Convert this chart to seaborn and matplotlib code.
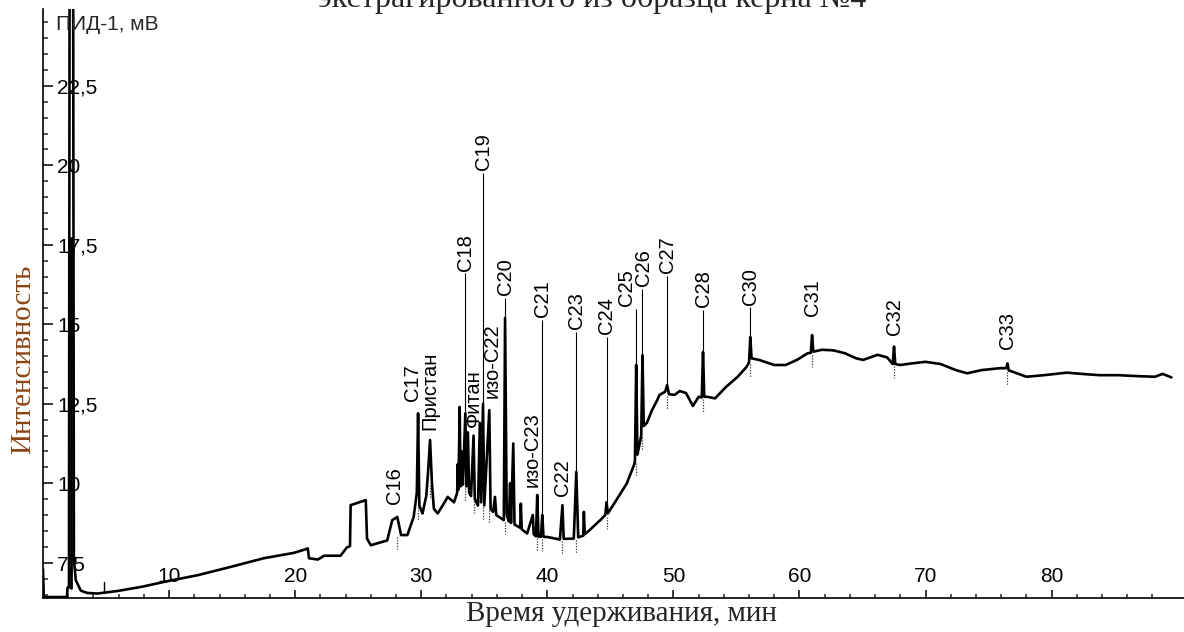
import matplotlib
matplotlib.use("Agg")
import matplotlib.pyplot as plt
from matplotlib.ticker import FixedLocator, MultipleLocator, FuncFormatter
import numpy as np
import pandas as pd
import seaborn as sns

# Detector trace: retention time (min) and FID signal (mV)
time_min = [
    0.00, 0.06, 1.90, 1.95, 2.06, 2.11, 2.39, 2.45, 2.60, 3.00, 3.50, 4.30, 5.90, 7.80,
    10.0, 12.3, 14.9, 17.5, 19.9, 20.8, 21.0, 21.1, 21.8, 22.3, 23.6, 24.1, 24.35, 24.40,
    25.60, 25.70, 26.00, 27.30, 27.70, 28.10, 28.40, 28.90, 29.40, 29.65, 29.75, 29.85,
    30.10, 30.40, 30.55, 30.70, 30.85, 31.00, 31.30, 31.70, 32.10, 32.60, 32.85, 32.90,
    32.95, 33.05, 33.12, 33.22, 33.30, 33.50, 33.58, 33.70, 33.80, 33.95, 34.15, 34.25,
    34.50, 34.65, 34.75, 34.90, 35.00, 35.40, 35.50, 35.70, 35.85, 35.95, 36.55, 36.65,
    36.78, 36.95, 37.05, 37.12, 37.30, 37.40, 37.85, 37.90, 37.97, 38.40, 38.85, 38.92,
    39.10, 39.20, 39.30, 39.50, 39.60, 39.70, 40.00, 41.00, 41.20, 41.30, 42.10, 42.30,
    42.45, 42.85, 42.90, 42.97, 43.20, 44.20, 44.60, 44.70, 44.80, 45.30, 46.30, 46.90,
    46.95, 47.05, 47.15, 47.45, 47.55, 47.65, 47.90, 48.30, 48.70, 48.90, 49.35, 49.50,
    49.65, 50.10, 50.50, 51.00, 51.55, 52.00, 52.25, 52.35, 52.45, 52.70, 53.30, 54.20,
    55.10, 55.80, 56.00, 56.10, 56.20, 56.80, 58.00, 58.90, 59.80, 60.65, 60.90, 61.00,
    61.10, 61.80, 62.70, 63.60, 64.50, 65.05, 66.20, 66.95, 67.40, 67.50, 67.60, 68.00,
    68.90, 70.00, 71.20, 72.40, 73.30, 74.45, 75.90, 76.40, 76.50, 76.60, 76.90, 78.00,
    79.40, 81.20, 82.40, 83.80, 85.30, 86.80, 88.20, 88.80, 89.50,
]
signal_mv = [
    7.30, 6.42, 6.42, 6.72, 6.72, 26.5, 26.5, 7.60, 6.95, 6.62, 6.55, 6.53, 6.61, 6.74,
    6.93, 7.11, 7.37, 7.64, 7.81, 7.92, 7.95, 7.64, 7.60, 7.72, 7.72, 7.98, 8.02, 9.31,
    9.47, 8.26, 8.05, 8.20, 8.84, 8.94, 8.37, 8.37, 8.94, 9.70, 12.20, 9.30,
    9.05, 9.60, 10.40, 11.36, 10.00, 9.20, 9.05, 9.30, 9.57, 9.40, 9.70, 10.60,
    9.80, 12.40, 9.90, 11.00, 9.95, 12.20, 9.90, 11.60, 9.70, 9.60, 11.50, 9.50,
    9.30, 11.90, 9.40, 12.50, 9.30, 12.30, 9.20, 9.10, 9.57, 9.00, 8.84, 15.20,
    9.00, 8.80, 10.00, 8.75, 11.25, 8.70, 8.60, 9.36, 8.55, 8.42, 9.00, 8.40,
    8.33, 9.63, 8.32, 8.32, 9.00, 8.31, 8.31, 8.23, 9.31, 8.25, 8.26, 10.36,
    8.30, 8.35, 9.10, 8.40, 8.47, 8.84, 9.00, 9.40, 9.05, 9.36, 9.99, 10.60,
    10.70, 13.72, 10.90, 11.50, 14.03, 11.80, 11.90, 12.30, 12.60, 12.78, 12.88, 13.09,
    12.80, 12.78, 12.90, 12.84, 12.43, 12.72, 12.70, 14.13, 12.72, 12.72, 12.67, 13.04,
    13.35, 13.66, 13.80, 14.60, 13.93, 13.88, 13.72, 13.72, 13.88, 14.09, 14.10, 14.66,
    14.14, 14.20, 14.18, 14.09, 13.93, 13.88, 14.04, 13.96, 13.75, 14.30, 13.75, 13.72,
    13.77, 13.82, 13.75, 13.56, 13.46, 13.56, 13.62, 13.62, 13.77, 13.55, 13.51, 13.35,
    13.40, 13.48, 13.44, 13.40, 13.40, 13.37, 13.35, 13.44, 13.33,
]

# Overlapping core of the solvent peak
solvent_core_time = [2.25, 2.25]
solvent_core_mv = [6.72, 17.7]

# Identified components: apex time, apex signal, bottom of the label
peak_names = ["C16", "C17", "Пристан", "C18", "Фитан", "C19", "изо-C22", "C20",
              "изо-C23", "C21", "C22", "C23", "C24", "C25", "C26", "C27", "C28",
              "C30", "C31", "C32", "C33"]
peak_times = [28.10, 29.75, 30.70, 33.50, 34.15, 34.90, 35.40, 36.65,
              39.20, 39.60, 41.20, 42.30, 44.70, 47.05, 47.55, 49.50, 52.35,
              56.10, 61.00, 67.50, 76.50]
peak_apex = [8.94, 12.20, 11.36, 12.20, 11.50, 12.50, 12.30, 15.20,
             9.63, 9.00, 9.31, 10.36, 9.40, 13.72, 14.03, 13.09, 14.13,
             14.60, 14.66, 14.30, 13.77]
label_base = [9.25, 12.50, 11.58, 16.60, 11.67, 19.76, 12.60, 15.83,
              9.79, 15.13, 9.52, 14.77, 14.61, 15.48, 16.11, 16.52, 15.45,
              15.53, 15.16, 14.57, 14.14]

x_major = [10, 20, 30, 40, 50, 60, 70, 80]

trace = pd.DataFrame({"t": time_min, "mv": signal_mv})
core = pd.DataFrame({"t": solvent_core_time, "mv": solvent_core_mv})

sns.set_style("ticks")
plt.rcParams["font.family"] = ["Liberation Sans", "DejaVu Sans"]

W, H = 1184, 632
fig = plt.figure(figsize=(W / 100, H / 100), dpi=100)
ax = fig.add_axes([43 / W, (H - 598) / H, (W - 43) / W, (598 - 9) / H])

sns.lineplot(data=trace, x="t", y="mv", ax=ax, sort=False, estimator=None,
             color="black", linewidth=1.9)
sns.lineplot(data=core, x="t", y="mv", ax=ax, sort=False, estimator=None,
             color="black", linewidth=2.0)

# Leader lines, integration marks and component labels
nudge_pt = {"C16": -2, "C17": -4, "изо-C23": -4, "C25": -7, "изо-C22": 2, "C26": 1}
for name, t, apex, base in zip(peak_names, peak_times, peak_apex, label_base):
    if base - apex > 0.5:
        ax.plot([t, t], [apex, base], color="black", linewidth=0.8,
                solid_capstyle="butt")
    i = time_min.index(t)
    foot = min(signal_mv[i - 1], signal_mv[i + 1])
    ax.plot([t, t], [foot - 0.05, foot - 0.45], color="#333333", linewidth=0.9,
            linestyle=(0, (1, 1.2)))
    ax.annotate(name, xy=(t, base), xytext=(nudge_pt.get(name, 0), 2),
                textcoords="offset points", rotation=90, ha="center", va="bottom",
                fontsize=14.5, color="black")

# event mark on the baseline
ax.plot([4.85, 4.85], [6.55, 6.88], color="black", linewidth=1.0)

ax.set_xlim(0, 90.5)
ax.set_ylim(6.39, 24.92)

ax.xaxis.set_major_locator(FixedLocator(x_major))
ax.xaxis.set_minor_locator(FixedLocator([v for v in range(2, 90, 2) if v % 10]))
ax.yaxis.set_major_locator(MultipleLocator(2.5))
ax.yaxis.set_minor_locator(MultipleLocator(0.5))
ax.yaxis.set_major_formatter(FuncFormatter(lambda v, p: f"{v:g}".replace(".", ",")))

ax.tick_params(axis="x", which="major", direction="in", length=5.8, width=1.1,
               pad=-22, labelsize=15, colors="black")
ax.tick_params(axis="x", which="minor", direction="in", length=3, width=1.1)
ax.tick_params(axis="y", which="major", direction="in", length=7, width=1.1,
               pad=-10, labelsize=15, colors="black")
ax.tick_params(axis="y", which="minor", direction="in", length=3.6, width=1.1)
for lab in ax.get_yticklabels():
    lab.set_horizontalalignment("left")

sns.despine(ax=ax, top=True, right=True)
for side in ("left", "bottom"):
    ax.spines[side].set_linewidth(1.2)
    ax.spines[side].set_color("black")
ax.set_xlabel("")
ax.set_ylabel("")

ax.text(0.011, 0.973, "ПИД-1, мВ", transform=ax.transAxes, fontsize=15,
        ha="left", va="center")

serif = ["Liberation Serif", "DejaVu Serif"]
fig.text(0.5, 1 - 7 / H, "экстрагированного из образца керна №4", family=serif,
         fontsize=23, ha="center", va="baseline")
fig.text(621 / W, 1 - 614 / H, "Время удерживания, мин", family=serif,
         fontsize=21, ha="center", va="center")
fig.text(23 / W, 1 - 359 / H, "Интенсивность", family=serif, fontsize=21,
         rotation=90, ha="center", va="center", color="#8B4513")

fig.savefig("out.png", dpi=100)
